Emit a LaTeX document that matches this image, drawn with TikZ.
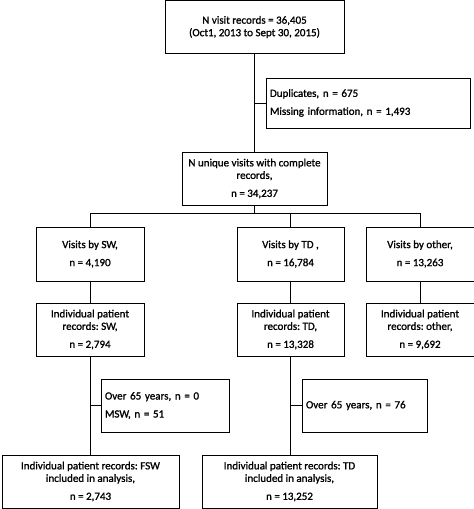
\documentclass[tikz,border=0pt]{standalone}
\usepackage{fontspec}
\setmainfont{Carlito}[FakeBold=1.2]
\begin{document}
\begin{tikzpicture}[x=1pt,y=-1pt,
  box/.style={draw=black, line width=0.8pt, rectangle, inner sep=0pt, outer sep=0pt,
    align=center, font=\fontsize{11}{12.5}\selectfont\frenchspacing},
  sidebox/.style={box, align=left, inner xsep=4pt},
  link/.style={draw=black, line width=0.8pt}]
\useasboundingbox (0,0) rectangle (474,509);
% top
\node[box, minimum width=179pt, minimum height=53pt] (top) at (254.5,27) {N visit records = 36,405\\(Oct1, 2013 to Sept 30, 2015)};
\node[sidebox, text width=196pt, minimum height=50pt] (dup) at (368,103) {Duplicates, n = 675\\[5.5pt]Missing information, n = 1,493};
\node[box, minimum width=145pt, minimum height=53pt] (uniq) at (254.5,178.5) {N unique visits with complete\\records,\\[5.5pt]n = 34,237};
% row 2
\node[box, minimum width=108pt, minimum height=54pt] (vsw) at (90,254) {Visits by SW,\\[5.5pt]n = 4,190};
\node[box, minimum width=107pt, minimum height=54pt] (vtd) at (290.5,254) {Visits by TD ,\\[5.5pt]n = 16,784};
\node[box, minimum width=108pt, minimum height=54pt] (vot) at (420,254) {Visits by other,\\[5.5pt]n = 13,263};
% row 3
\node[box, minimum width=108pt, minimum height=53pt] (psw) at (90,329.5) {Individual patient\\records: SW,\\[5.5pt]n = 2,794};
\node[box, minimum width=107pt, minimum height=53pt] (ptd) at (290.5,329.5) {Individual patient\\records: TD,\\[5.5pt]n = 13,328};
\node[box, minimum width=108pt, minimum height=53pt] (pot) at (420,329.5) {Individual patient\\records: other,\\[5.5pt]n = 9,692};
% exclusions
\node[sidebox, text width=120pt, minimum height=53pt] (xsw) at (165,405.5) {Over 65 years, n = 0\\[5.5pt]MSW, n = 51};
\node[sidebox, text width=117pt, minimum height=53pt] (xtd) at (364.5,405.5) {Over 65 years, n = 76};
% bottom
\node[box, minimum width=177pt, minimum height=53pt] (fsw) at (90.5,481.5) {Individual patient records: FSW\\included in analysis,\\[5.5pt]n = 2,743};
\node[box, minimum width=175pt, minimum height=53pt] (ftd) at (289.5,481.5) {Individual patient records: TD\\included in analysis,\\[5.5pt]n = 13,252};
% connectors
\draw[link] (top.south) -- (top.south |- uniq.north);
\draw[link] (top.south |- dup.west) -- (dup.west);
\coordinate (j) at (254.5,213);
\draw[link] (uniq.south) -- (j);
\draw[link] (vsw.north) -- (vsw.north |- j) -| (vot.north);
\draw[link] (vtd.north) -- (vtd.north |- j);
\draw[link] (vsw.south) -- (psw.north);
\draw[link] (vtd.south) -- (ptd.north);
\draw[link] (vot.south) -- (pot.north);
\draw[link] (psw.south) -- (psw.south |- fsw.north);
\draw[link] (psw.south |- xsw.west) -- (xsw.west);
\draw[link] (ptd.south) -- (ptd.south |- ftd.north);
\draw[link] (ptd.south |- xtd.west) -- (xtd.west);
\end{tikzpicture}
\end{document}
